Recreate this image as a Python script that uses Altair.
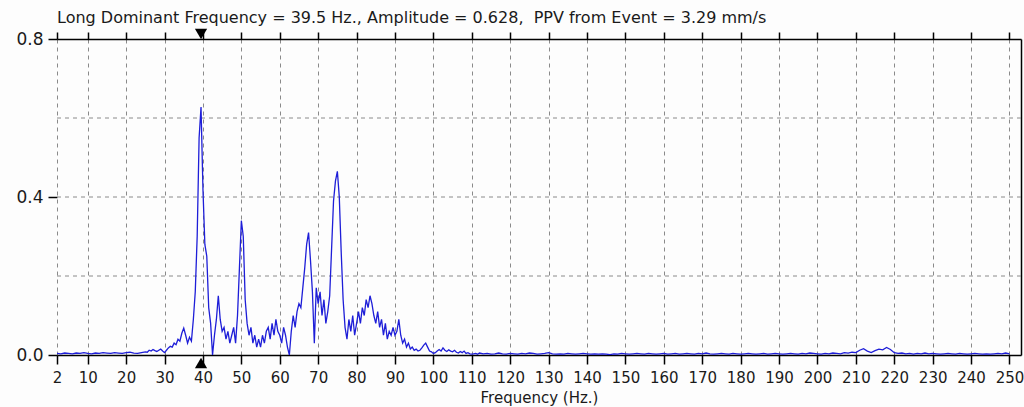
import altair as alt
import numpy as np
import pandas as pd

TITLE = "Long Dominant Frequency = 39.5 Hz., Amplitude = 0.628,\u00a0 PPV from Event = 3.29 mm/s"
X_TITLE = "Frequency (Hz.)"
x_ticks = [2] + list(range(10, 251, 10))
y_labels = [0.0, 0.4, 0.8]
y_grid = [0.2, 0.4, 0.6]
dominant_freq = 39.5

# 2 .. 25 Hz, 1 Hz steps
amp_low = [0.004, 0.003, 0.005, 0.004, 0.003, 0.005, 0.004, 0.006, 0.004, 0.003,
           0.005, 0.004, 0.006, 0.005, 0.004, 0.006, 0.005, 0.004, 0.006, 0.007,
           0.005, 0.004, 0.006, 0.008]
# 25.5 .. 112 Hz, 0.5 Hz steps
amp_mid = [
    0.007, 0.012, 0.010, 0.014, 0.011, 0.009, 0.012, 0.015, 0.010, 0.006,   # 25.5-30
    0.012, 0.018, 0.022, 0.020, 0.030, 0.026, 0.040, 0.035, 0.055, 0.068,   # 30.5-35
    0.050, 0.030, 0.045, 0.035, 0.090, 0.160, 0.300, 0.550, 0.628, 0.420,   # 35.5-40
    0.280, 0.250, 0.120, 0.080, 0.000, 0.050, 0.090, 0.150, 0.090, 0.060,   # 40.5-45
    0.070, 0.040, 0.060, 0.030, 0.050, 0.070, 0.030, 0.100, 0.220, 0.340,   # 45.5-50
    0.300, 0.140, 0.080, 0.050, 0.070, 0.030, 0.050, 0.020, 0.040, 0.020,   # 50.5-55
    0.050, 0.030, 0.060, 0.070, 0.040, 0.080, 0.050, 0.090, 0.060, 0.050,   # 55.5-60
    0.030, 0.070, 0.050, 0.020, 0.000, 0.060, 0.100, 0.070, 0.110, 0.130,   # 60.5-65
    0.120, 0.170, 0.220, 0.280, 0.310, 0.240, 0.160, 0.030, 0.170, 0.130,   # 65.5-70
    0.160, 0.100, 0.140, 0.080, 0.110, 0.150, 0.270, 0.390, 0.440, 0.465,   # 70.5-75
    0.400, 0.260, 0.140, 0.070, 0.040, 0.090, 0.060, 0.100, 0.050, 0.080,   # 75.5-80
    0.110, 0.080, 0.120, 0.100, 0.140, 0.120, 0.150, 0.130, 0.100, 0.080,   # 80.5-85
    0.110, 0.070, 0.090, 0.050, 0.080, 0.040, 0.060, 0.050, 0.070, 0.050,   # 85.5-90
    0.060, 0.090, 0.050, 0.030, 0.040, 0.020, 0.030, 0.015, 0.020, 0.012,   # 90.5-95
    0.015, 0.010, 0.012, 0.018, 0.025, 0.030, 0.020, 0.010, 0.008, 0.004,   # 95.5-100
    0.006, 0.010, 0.014, 0.010, 0.018, 0.012, 0.009, 0.013, 0.010, 0.008,   # 100.5-105
    0.012, 0.007, 0.005, 0.009, 0.006, 0.010, 0.004, 0.006, 0.003, 0.002,   # 105.5-110
    0.003, 0.004, 0.002, 0.005,                                             # 110.5-112
]
# 113 .. 250 Hz, 1 Hz steps
amp_high = [
    0.003, 0.004, 0.002, 0.003, 0.005, 0.003, 0.002, 0.004, 0.003, 0.002,
    0.004, 0.003, 0.005, 0.004, 0.002, 0.003, 0.004, 0.006, 0.003, 0.002,
    0.003, 0.002, 0.004, 0.003, 0.002, 0.003, 0.004, 0.003, 0.002, 0.003,
    0.002, 0.003, 0.002, 0.001, 0.003, 0.002, 0.004, 0.003, 0.002, 0.003,
    0.004, 0.003, 0.002, 0.004, 0.003, 0.002, 0.003, 0.004, 0.002, 0.003,
    0.004, 0.002, 0.003, 0.004, 0.003, 0.002, 0.004, 0.003, 0.005, 0.003,
    0.002, 0.003, 0.004, 0.003, 0.002, 0.004, 0.003, 0.002, 0.003, 0.004,
    0.003, 0.002, 0.003, 0.004, 0.002, 0.003, 0.004, 0.003, 0.002, 0.003,
    0.004, 0.003, 0.002, 0.004, 0.003, 0.005, 0.004, 0.003, 0.002, 0.004,
    0.003, 0.005, 0.004, 0.003, 0.006, 0.005, 0.007, 0.006, 0.012, 0.016,
    0.010, 0.006, 0.011, 0.015, 0.013, 0.019, 0.014, 0.006, 0.004, 0.005,
    0.003, 0.004, 0.002, 0.004, 0.003, 0.005, 0.003, 0.004, 0.003, 0.002,
    0.003, 0.004, 0.003, 0.002, 0.004, 0.003, 0.002, 0.003, 0.004, 0.003,
    0.002, 0.003, 0.002, 0.003, 0.004, 0.003, 0.005, 0.003,
]

freq_low = list(range(2, 26))
freq_mid = [25.5 + 0.5 * i for i in range(len(amp_mid))]
freq_high = list(range(113, 113 + len(amp_high)))

df = pd.DataFrame({"f": freq_low + freq_mid + freq_high,
                   "a": amp_low + amp_mid + amp_high})
grid_df = pd.DataFrame({"g": y_grid})
top_df = pd.DataFrame({"f": [dominant_freq], "a": [0.8]})
bot_df = pd.DataFrame({"f": [dominant_freq], "a": [0.0]})

FONT = "DejaVu Sans"
FS = 15
TXT = "#1a1a1a"
xscale = alt.Scale(domain=[2, 253], nice=False, zero=False)
yscale = alt.Scale(domain=[0, 0.8], nice=False, zero=True)

hgrid = alt.Chart(grid_df).mark_rule(color="#8a8a8a", strokeDash=[4, 4], strokeWidth=1).encode(
    y=alt.Y("g:Q", scale=yscale,
            axis=alt.Axis(orient="right", labels=False, ticks=False, title=None, grid=False,
                          domain=True, domainColor="#000000", domainWidth=1.5))
)

line = alt.Chart(df).mark_line(color="#1e1ed8", strokeWidth=1.3, clip=True).encode(
    x=alt.X("f:Q", scale=xscale,
            axis=alt.Axis(orient="bottom", values=x_ticks, title=X_TITLE, grid=True,
                          gridDash=[4, 4], gridColor="#8a8a8a", gridWidth=1,
                          tickSize=9, tickColor="#000000", tickWidth=1.5,
                          domainColor="#000000", domainWidth=1.5,
                          labelFont=FONT, labelFontSize=FS, labelColor=TXT,
                          labelPadding=6, labelFlush=False, labelOverlap=False,
                          titleFont=FONT, titleFontSize=FS, titleFontWeight="normal",
                          titleColor=TXT, titlePadding=5)),
    y=alt.Y("a:Q", scale=yscale,
            axis=alt.Axis(orient="left", values=y_labels, format=".1f", grid=False,
                          domain=False, tickSize=9, tickColor="#000000", tickWidth=1.5,
                          labelFont=FONT, labelFontSize=17, labelColor=TXT,
                          labelPadding=5, title=None)),
)

top_mark = alt.Chart(top_df).mark_point(shape="triangle-down", filled=True, color="#000000",
                                        opacity=1, size=150, yOffset=-5).encode(
    x=alt.X("f:Q", scale=xscale,
            axis=alt.Axis(orient="top", values=x_ticks, labels=False, title=None, grid=False,
                          tickSize=7, tickColor="#000000", tickWidth=1.5,
                          domainColor="#000000", domainWidth=1.5)),
    y=alt.Y("a:Q", scale=yscale, axis=None),
)

bot_mark = alt.Chart(bot_df).mark_point(shape="triangle-up", filled=True, color="#000000",
                                        opacity=1, size=150, yOffset=8).encode(
    x=alt.X("f:Q", scale=xscale, axis=None),
    y=alt.Y("a:Q", scale=yscale, axis=None),
)

chart = alt.layer(hgrid, line, top_mark, bot_mark).resolve_axis(
    x="independent", y="independent"
).properties(
    width=964, height=316,
    padding={"left": 57, "top": 39, "right": 3, "bottom": 52},
    autosize="none",
    background="#fdfdfd",
    title=alt.TitleParams(TITLE, anchor="start", frame="group", font=FONT, fontSize=16,
                          fontWeight="normal", color=TXT, offset=3),
).configure_view(stroke=None)

chart.save("out.html", embed_options={"renderer": "svg", "actions": False})
